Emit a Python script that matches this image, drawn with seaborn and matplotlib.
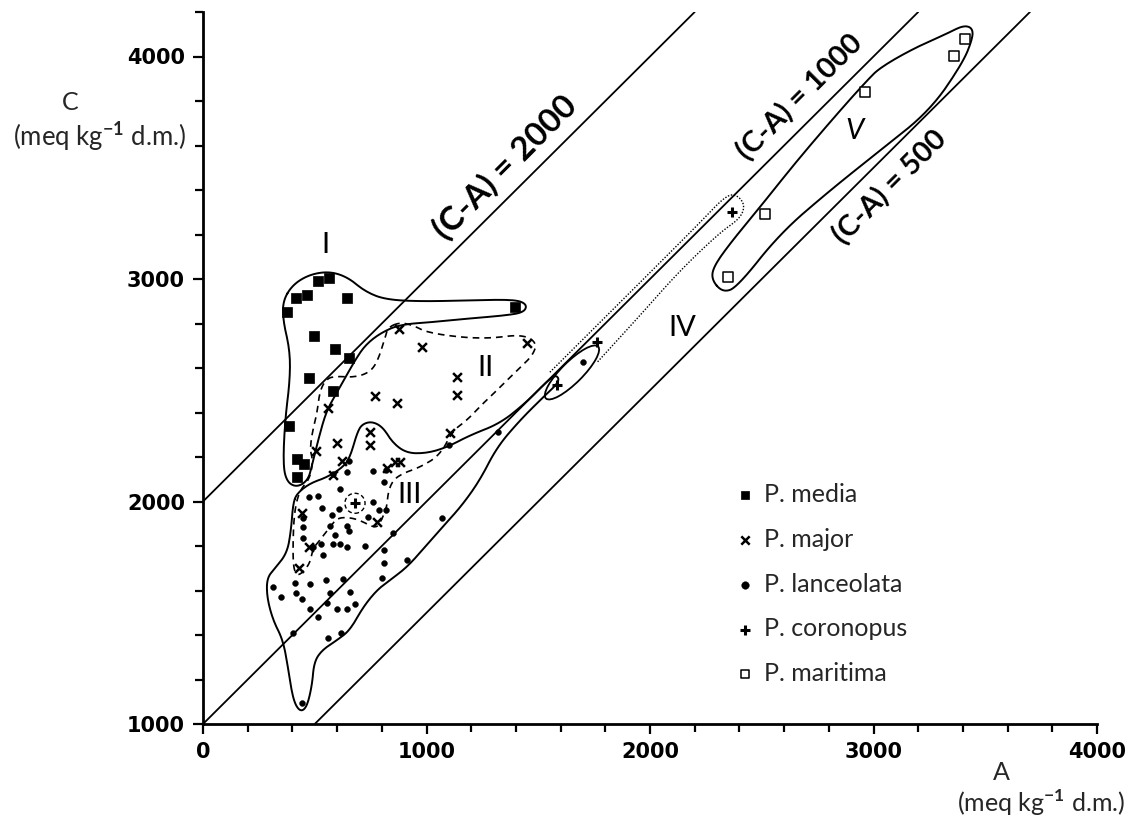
import numpy as np
import pandas as pd
import matplotlib
matplotlib.use("Agg")
import matplotlib.pyplot as plt
import seaborn as sns
from matplotlib.patches import Ellipse, Circle
from matplotlib.ticker import MultipleLocator

# ---------------- data ----------------
media_A = [376, 416, 465, 515, 564, 644, 497, 591, 653, 474, 582, 385, 421, 452, 421, 1396]
media_C = [2850, 2913, 2926, 2989, 3003, 2913, 2742, 2684, 2643, 2554, 2495, 2338, 2190, 2167, 2109, 2872]

major_A = [877, 980, 1450, 1136, 1136, 770, 868, 559, 1105, 506, 600, 747, 747, 622, 582, 859, 881, 823, 443, 474, 430, 778]
major_C = [2774, 2693, 2711, 2558, 2477, 2473, 2441, 2419, 2307, 2226, 2262, 2311, 2253, 2181, 2118, 2176, 2176, 2149, 1947, 1795, 1700, 1907]

lanc_A = [655, 762, 819, 810, 646, 613, 516, 476, 531, 762, 789, 819, 740, 576, 610, 446, 446, 568, 646, 655,
          849, 591, 446, 528, 580, 613, 643, 725, 810, 494, 535, 810, 911, 412, 479, 550, 625, 799, 315, 348,
          416, 441, 568, 658, 553, 598, 646, 479, 516, 680, 404, 561, 616, 441, 1102, 1320, 1700, 1069, 580]
lanc_C = [2182, 2137, 2143, 2088, 2133, 2054, 2024, 2018, 1973, 1998, 1961, 1961, 1931, 1938, 1968, 1928, 1886, 1889, 1889, 1868,
          1859, 1849, 1834, 1811, 1808, 1808, 1796, 1799, 1781, 1796, 1759, 1722, 1736, 1634, 1629, 1647, 1650, 1654, 1616, 1569,
          1590, 1564, 1590, 1594, 1545, 1515, 1519, 1515, 1482, 1539, 1407, 1385, 1407, 1093, 2253, 2311, 2625, 1925, 2122]

coron_A = [680, 1584, 1763, 2367]
coron_C = [1992, 2522, 2715, 3299]

marit_A = [3409, 3360, 2962, 2514, 2349]
marit_C = [4080, 4004, 3842, 3294, 3007]

species = ["P. media", "P. major", "P. lanceolata", "P. coronopus", "P. maritima"]

# reference lines (C - A = const)
diff_values = [2000, 1000, 500]
diff_labels = ["(C-A) = 2000", "(C-A) = 1000", "(C-A) = 500"]

# hand-drawn group outlines (A, C)
reg1_A = [358, 403, 479, 568, 649, 725, 814, 971, 1195, 1396, 1450, 1436, 1351, 1195, 1060, 881, 792, 725, 680, 635,
          591, 550, 515, 488, 470, 421, 376, 358, 367, 389, 389, 358]
reg1_C = [2904, 2976, 3021, 3034, 3007, 2944, 2908, 2899, 2904, 2908, 2886, 2850, 2836, 2823, 2809, 2796, 2756, 2702, 2634, 2554,
          2477, 2401, 2275, 2163, 2096, 2064, 2087, 2163, 2365, 2545, 2679, 2814]

reg2_A = [828, 881, 940, 1002, 1150, 1284, 1427, 1494, 1476, 1405, 1329, 1253, 1181, 1119, 1060, 971, 895, 850, 828, 823,
          792, 770, 702, 649, 600, 568, 523, 492, 479, 443, 421, 403, 403, 412, 434, 479, 492, 479, 488, 510,
          523, 555, 600, 671, 738, 778, 814]
reg2_C = [2783, 2805, 2792, 2760, 2738, 2733, 2751, 2715, 2657, 2589, 2513, 2441, 2365, 2320, 2208, 2154, 2127, 2096, 2042, 1974,
          1902, 1880, 1916, 1929, 1925, 1885, 1826, 1790, 1723, 1678, 1669, 1705, 1858, 1974, 2051, 2105, 2185, 2230, 2307, 2396,
          2500, 2554, 2563, 2558, 2576, 2621, 2733]

reg3_A = [403, 421, 479, 555, 626, 658, 689, 711, 756, 805, 850, 913, 1002, 1092, 1195, 1329, 1441, 1530, 1579, 1597,
          1521, 1418, 1315, 1239, 1159, 1083, 993, 913, 837, 778, 716, 658, 600, 532, 497, 488, 465, 434, 403, 380,
          358, 313, 286, 286, 322, 376, 394]
reg3_C = [1992, 2037, 2082, 2109, 2154, 2199, 2307, 2347, 2360, 2334, 2262, 2217, 2217, 2244, 2298, 2351, 2441, 2531, 2572, 2540,
          2468, 2365, 2244, 2096, 1983, 1898, 1795, 1705, 1647, 1602, 1525, 1422, 1377, 1332, 1278, 1175, 1076, 1054, 1108, 1256,
          1377, 1467, 1570, 1656, 1700, 1768, 1871]

band_A = [1552, 1776, 2000, 2224, 2344, 2394, 2425, 2403, 2313, 2134, 1955, 1763]
band_C = [2581, 2805, 3029, 3254, 3380, 3375, 3330, 3272, 3209, 3038, 2836, 2625]

reg5_A = [2277, 2326, 2389, 2582, 2805, 3029, 3253, 3400, 3445, 3441, 3400, 3329, 3177, 3029, 2971, 2850, 2658, 2505, 2358, 2282]
reg5_C = [2994, 2940, 2962, 3205, 3398, 3577, 3757, 3972, 4085, 4130, 4139, 4103, 4035, 3950, 3892, 3757, 3532, 3339, 3160, 3052]

region_names = ["I", "II", "III", "IV", "V"]
region_A = [550, 1266, 926, 2143, 2917]
region_C = [3151, 2598, 2028, 2778, 3667]


def smooth(a, c, closed=True, iters=3):
    pts = np.column_stack([a, c]).astype(float)
    for _ in range(iters):
        if closed:
            nxt = np.roll(pts, -1, axis=0)
            q = 0.75 * pts + 0.25 * nxt
            r = 0.25 * pts + 0.75 * nxt
            new = np.empty((2 * len(pts), 2))
            new[0::2] = q
            new[1::2] = r
        else:
            p0, p1 = pts[:-1], pts[1:]
            q = 0.75 * p0 + 0.25 * p1
            r = 0.25 * p0 + 0.75 * p1
            new = np.empty((2 * len(p0), 2))
            new[0::2] = q
            new[1::2] = r
            new = np.vstack([pts[:1], new, pts[-1:]])
        pts = new
    if closed:
        pts = np.vstack([pts, pts[:1]])
    return pts[:, 0], pts[:, 1]


# ---------------- figure ----------------
sns.set_theme(style="white")
plt.rcParams["font.family"] = ["Lato", "DejaVu Sans"]
plt.rcParams["mathtext.fontset"] = "custom"
plt.rcParams["mathtext.rm"] = "Lato"
plt.rcParams["mathtext.bf"] = "Lato:bold"

fig = plt.figure(figsize=(11.37, 8.19), dpi=100)
ax = fig.add_axes([203 / 1137, 95 / 819, 894 / 1137, 712 / 819])

# reference diagonals
for d in diff_values:
    a0 = max(0, 1000 - d)
    a1 = 4200 - d
    ax.plot([a0, a1], [a0 + d, a1 + d], color="black", lw=1.3, zorder=2)

# outlines
lw_c = 1.4
x, y = smooth(reg1_A, reg1_C)
ax.plot(x, y, color="black", lw=lw_c, zorder=2)
x, y = smooth(reg3_A, reg3_C)
ax.plot(x, y, color="black", lw=lw_c, zorder=2)
x, y = smooth(reg5_A, reg5_C)
ax.plot(x, y, color="black", lw=lw_c, zorder=2)
x, y = smooth(reg2_A, reg2_C)
ax.plot(x, y, color="black", lw=1.2, ls=(0, (4, 3)), zorder=2)
x, y = smooth(band_A, band_C, closed=False)
ax.plot(x, y, color="black", lw=1.0, ls=(0, (1, 1.2)), zorder=2)
ax.add_patch(Ellipse((1651, 2580), 330, 95, angle=45, fill=False, ec="black", lw=1.3, zorder=2))
ax.add_patch(Circle((coron_A[0], coron_C[0]), 45, fill=False, ec="black", lw=1.0, ls=(0, (3, 2)), zorder=2))

# points
sns.scatterplot(x=media_A, y=media_C, marker="s", s=55, color="black", edgecolor="black",
                linewidth=0.5, ax=ax, label=species[0], zorder=3)
sns.scatterplot(x=major_A, y=major_C, marker="x", s=40, color="black", linewidth=1.8,
                ax=ax, label=species[1], zorder=3)
sns.scatterplot(x=lanc_A, y=lanc_C, marker="o", s=18, color="black", edgecolor="black",
                linewidth=0.3, ax=ax, label=species[2], zorder=3)
ax.scatter(coron_A, coron_C, marker="+", s=60, color="black", linewidths=2.2, label=species[3], zorder=3)
sns.scatterplot(x=marit_A, y=marit_C, marker="s", s=45, facecolor="white", edgecolor="black",
                linewidth=1.1, ax=ax, label=species[4], zorder=3)

# diagonal labels
lab_pos = [(1351, 3500, 24), (2671, 3815, 21), (3074, 3411, 21)]
for (a, c, fs), t in zip(lab_pos, diff_labels):
    ax.text(a, c, t, rotation=45, rotation_mode="anchor", ha="center", va="center",
            fontsize=fs, fontweight="bold", color="black")

# region labels
for n, a, c in zip(region_names, region_A, region_C):
    ax.text(a, c, n, ha="center", va="center", fontsize=21,
            style="italic" if n == "V" else "normal", color="black")

# axes styling
ax.set_xlim(0, 4000)
ax.set_ylim(1000, 4200)
for side in ["top", "right"]:
    ax.spines[side].set_visible(False)
for side in ["left", "bottom"]:
    ax.spines[side].set_linewidth(2.0)
    ax.spines[side].set_color("black")
ax.set_xticks([0, 1000, 2000, 3000, 4000])
ax.set_yticks([1000, 2000, 3000, 4000])
ax.xaxis.set_minor_locator(MultipleLocator(200))
ax.yaxis.set_minor_locator(MultipleLocator(200))
ax.tick_params(which="both", direction="out", color="black", width=1.6, bottom=True, left=True)
ax.tick_params(which="major", length=7, pad=6)
ax.tick_params(which="minor", length=6)
for lab in ax.get_xticklabels() + ax.get_yticklabels():
    lab.set_fontfamily("DejaVu Sans")
    lab.set_fontweight("bold")
    lab.set_fontsize(15)
    lab.set_color("black")
ax.set_xlabel("")
ax.set_ylabel("")

fig.text(70 / 1137, 1 - 103 / 819, "C", ha="center", va="center", fontsize=18)
fig.text(100 / 1137, 1 - 137 / 819, r"(meq kg$^{\mathbf{-1}}$ d.m.)", ha="center", va="center", fontsize=18.5)
fig.text(1001 / 1137, 1 - 773 / 819, "A", ha="center", va="center", fontsize=18)
fig.text(1125 / 1137, 1 - 803 / 819, r"(meq kg$^{\mathbf{-1}}$ d.m.)", ha="right", va="center", fontsize=18)

handles, labels = ax.get_legend_handles_labels()
order = [labels.index(s) for s in species]
leg = ax.legend([handles[i] for i in order], [labels[i] for i in order],
                loc="upper left", bbox_to_anchor=(722 / 1137, 1 - 473 / 819), bbox_transform=fig.transFigure,
                frameon=False, fontsize=18, handletextpad=0.3, labelspacing=0.87, handlelength=1.0,
                borderaxespad=0)
for h, sz in zip(leg.legend_handles, [40, 36, 30, 55, 40]):
    h.set_sizes([sz])

fig.savefig("out.png", dpi=100, facecolor="white")
